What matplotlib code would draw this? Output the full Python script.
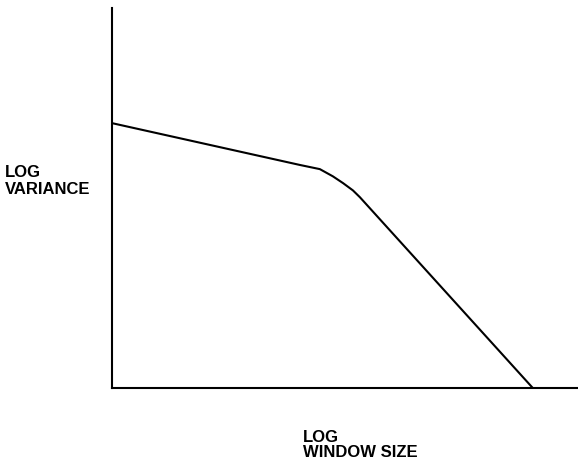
import matplotlib
matplotlib.use("Agg")
import matplotlib.pyplot as plt

# schematic curve: log variance vs log window size (arbitrary units)
log_window = [0.0, 4.03, 4.46, 4.74, 4.96, 5.17, 5.32, 9.03]
log_variance = [6.97, 5.87, 5.76, 5.57, 5.39, 5.20, 5.02, 0.0]

W, H = 578, 461
fig = plt.figure(figsize=(W / 100, H / 100), dpi=100)
ax = fig.add_axes([112 / W, (H - 388) / H, (W - 112) / W, (388 - 8) / H])

ax.plot(log_window, log_variance, color="black", lw=1.5)
ax.set_xlim(0, 10)
ax.set_ylim(0, 10)
ax.set_xticks([])
ax.set_yticks([])
for s in ["top", "right"]:
    ax.spines[s].set_visible(False)
for s in ["left", "bottom"]:
    ax.spines[s].set_linewidth(1.5)

font = dict(family="Liberation Sans", weight="bold", size=12)
# axis labels, one text per line (baselines)
fig.text(5 / W, 1 - 176.5 / H, "LOG", ha="left", va="baseline", **font)
fig.text(5 / W, 1 - 194 / H, "VARIANCE", ha="left", va="baseline", **font)
fig.text(303 / W, 1 - 441.5 / H, "LOG", ha="left", va="baseline", **font)
fig.text(303 / W, 1 - 456.5 / H, "WINDOW SIZE", ha="left", va="baseline", **font)

fig.savefig("out.png", dpi=100)
